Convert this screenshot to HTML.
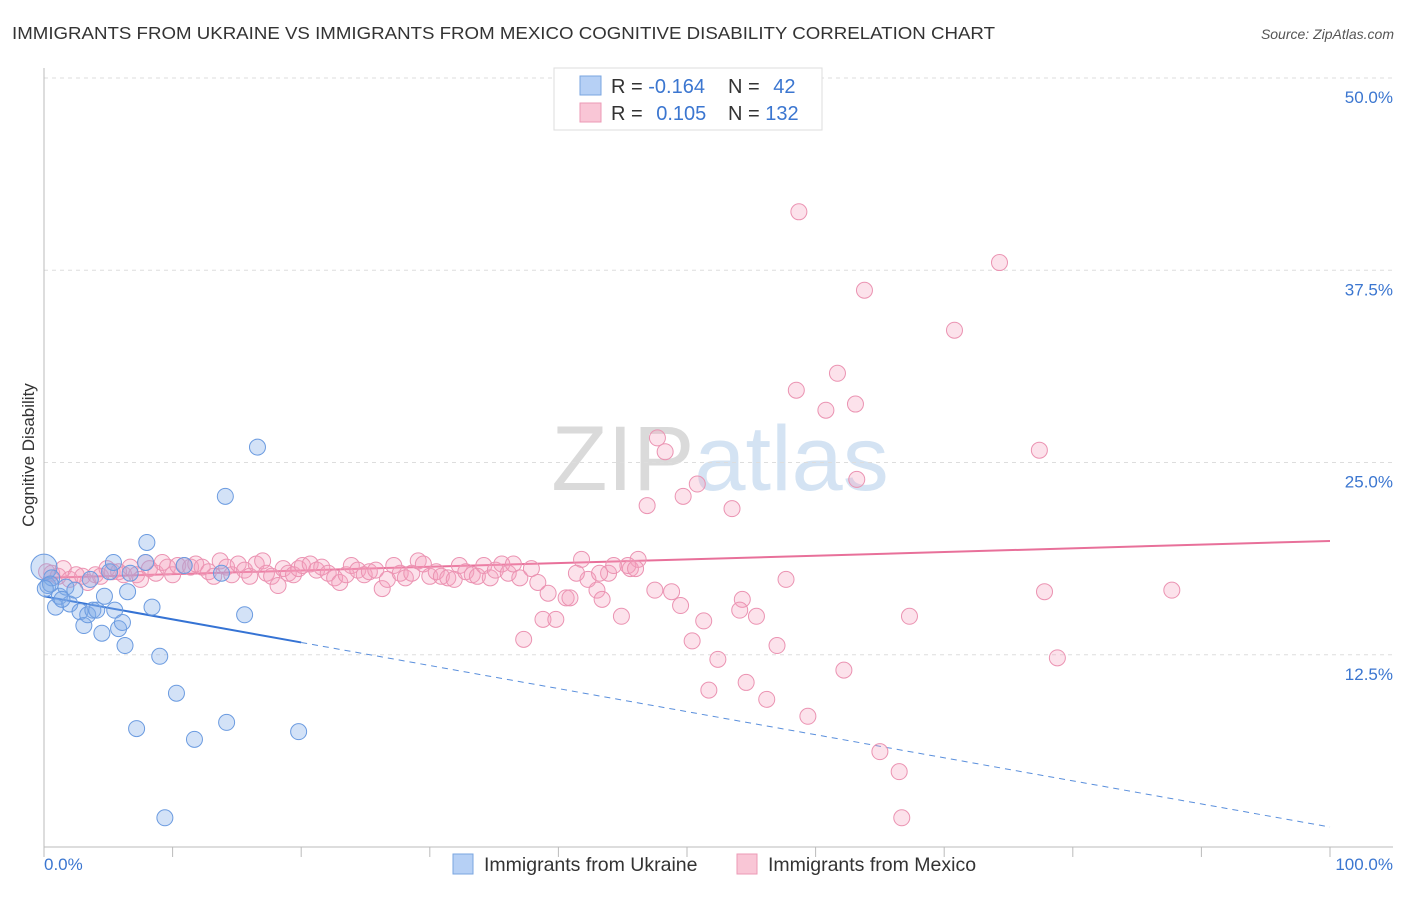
<!DOCTYPE html>
<html><head><meta charset="utf-8"><style>
body{margin:0;background:#fff;font-family:"Liberation Sans",sans-serif;}
svg text{font-family:"Liberation Sans",sans-serif;}
</style></head><body>
<svg id="chart" width="1406" height="892">
<text x="12" y="39" font-size="17.5" fill="#333" textLength="983" lengthAdjust="spacingAndGlyphs">IMMIGRANTS FROM UKRAINE VS IMMIGRANTS FROM MEXICO COGNITIVE DISABILITY CORRELATION CHART</text>
<text x="1394" y="39" font-size="14" font-style="italic" fill="#555" text-anchor="end">Source: ZipAtlas.com</text>
<text x="720" y="490" font-size="92" fill="#ddd" text-anchor="middle" font-family="Liberation Serif"><tspan fill="#dadada">ZIP</tspan><tspan fill="#d4e3f3" font-family="Liberation Sans">atlas</tspan></text>
<g id="grid"></g><g id="axes"></g><g id="trend"></g><g id="points"></g>
<text transform="translate(34,455) rotate(-90)" font-size="17" fill="#333" text-anchor="middle">Cognitive Disability</text>
<text x="44" y="870" font-size="17" fill="#3b76d0">0.0%</text>
<text x="1393" y="870" font-size="17" fill="#3b76d0" text-anchor="end">100.0%</text>
<g>
<rect x="554" y="68" width="268" height="62" fill="#fff" stroke="#ddd"/>
<rect x="580" y="76" width="21" height="19" fill="#b6d0f5" stroke="#7aa6e0"/>
<rect x="580" y="103" width="21" height="19" fill="#f9c6d6" stroke="#ec9ab6"/>
<text x="611" y="93" font-size="20" fill="#333">R = <tspan fill="#3b76d0">-0.164</tspan></text>
<text x="728" y="93" font-size="20" fill="#333">N = <tspan fill="#3b76d0" dx="8">42</tspan></text>
<text x="611" y="120" font-size="20" fill="#333">R = <tspan fill="#3b76d0" dx="8">0.105</tspan></text>
<text x="728" y="120" font-size="20" fill="#333">N = <tspan fill="#3b76d0">132</tspan></text>
</g>
<g>
<rect x="453" y="854" width="20" height="20" fill="#b6d0f5" stroke="#7aa6e0"/>
<text x="484" y="871" font-size="19.5" fill="#333">Immigrants from Ukraine</text>
<rect x="737" y="854" width="20" height="20" fill="#f9c6d6" stroke="#ec9ab6"/>
<text x="768" y="871" font-size="19.5" fill="#333">Immigrants from Mexico</text>
</g>
</svg>
<script>
const yTicks=[12.5,25,37.5,50];
const yTickLabels=["12.5%","25.0%","37.5%","50.0%"];
const xTicks=[0,10,20,30,40,50,60,70,80,90,100];
const ukraineX=[0,0.3,0.6,0.9,1.2,1.7,2.0,2.4,2.8,3.1,3.4,3.8,4.1,4.5,4.7,5.1,5.4,5.5,5.8,6.1,6.3,6.5,6.7,7.9,8.0,8.4,9.0,9.4,10.3,10.9,11.7,13.8,14.1,14.2,15.6,16.6,19.8,7.2,3.6,1.4,0.5,0.1];
const ukraineY=[18.2,17.0,17.5,15.6,16.3,16.9,15.8,16.7,15.3,14.4,15.1,15.4,15.4,13.9,16.3,17.9,18.5,15.4,14.2,14.6,13.1,16.6,17.8,18.5,19.8,15.6,12.4,1.9,10.0,18.3,7.0,17.8,22.8,8.1,15.1,26.0,7.5,7.7,17.4,16.1,17.1,16.8];
const mexicoX=[58.7,74.3,63.8,70.8,58.5,61.7,60.8,63.1,47.7,48.3,77.4,63.2,50.8,49.7,46.9,53.5,87.7,77.8,57.7,47.5,48.8,49.5,51.3,54.3,54.1,55.4,57.0,67.3,50.4,52.4,78.8,62.2,51.7,54.6,56.2,59.4,65.0,66.5,66.7,37.3,38.8,39.8,40.6,40.9,43.0,43.4,44.9,43.9,45.6,46.2,41.8,39.2,42.3,
0.2,0.6,1.1,1.5,2.0,2.5,3.0,3.4,4.0,4.4,4.9,5.3,5.8,6.2,6.7,7.2,7.5,7.9,8.2,8.7,9.2,9.6,10.0,10.4,10.9,11.4,11.8,12.3,12.8,13.2,13.7,14.2,14.6,15.1,15.6,16.0,16.5,17.0,17.3,17.7,18.2,18.6,19.0,19.4,19.8,20.1,20.7,21.2,21.6,22.1,22.6,23.0,23.5,23.9,24.4,24.9,25.3,25.8,26.3,26.7,27.2,27.7,28.1,28.6,29.1,29.5,30.0,30.5,30.9,31.4,31.9,32.3,32.8,33.3,33.7,34.2,34.7,35.1,35.6,36.1,36.5,37.0,37.9,38.4,41.4,43.2,44.3,45.4,46.0];
const mexicoY=[41.3,38.0,36.2,33.6,29.7,30.8,28.4,28.8,26.6,25.7,25.8,23.9,23.6,22.8,22.2,22.0,16.7,16.6,17.4,16.7,16.6,15.7,14.7,16.1,15.4,15.0,13.1,15.0,13.4,12.2,12.3,11.5,10.2,10.7,9.6,8.5,6.2,4.9,1.9,13.5,14.8,14.8,16.2,16.2,16.7,16.1,15.0,17.8,18.1,18.7,18.7,16.5,17.4,
17.9,17.8,17.6,18.1,17.4,17.7,17.6,17.2,17.7,17.6,18.1,17.9,17.9,17.7,18.2,17.7,17.4,18.5,18.1,17.8,18.5,18.2,17.7,18.3,18.3,18.2,18.4,18.2,17.9,17.6,18.6,18.2,17.7,18.4,18.0,17.6,18.4,18.6,17.8,17.6,17.0,18.1,17.8,17.7,18.1,18.3,18.4,18.0,18.2,17.8,17.5,17.2,17.7,18.3,18.0,17.7,17.9,18.0,16.8,17.4,18.3,17.8,17.5,17.8,18.6,18.4,17.6,17.9,17.6,17.5,17.4,18.3,17.9,17.7,17.6,18.3,17.5,18.0,18.4,17.8,18.4,17.5,18.1,17.2,17.8,17.8,18.3,18.3,18.1];
const ukraineTrend=[16.3,-0.15];
const mexicoTrend=[17.5,0.024];
const NS='http://www.w3.org/2000/svg';
const X0=44,X1=1330,Y0=847,YTOP=78;
function sx(v){return X0+(X1-X0)*v/100;}
function sy(v){return Y0-(Y0-YTOP)*v/50;}
function mk(tag,attrs,parent){const e=document.createElementNS(NS,tag);for(const k in attrs)e.setAttribute(k,attrs[k]);document.getElementById(parent).appendChild(e);return e;}
yTicks.forEach((t,i)=>{
 const g=mk('line',{x1:X0,x2:1393,y1:sy(t),y2:sy(t),stroke:'#ddd','stroke-dasharray':'4,4'},'grid');
 
 
 const l=mk('text',{x:1393,y:sy(t)+25,'font-size':17,fill:'#3b76d0','text-anchor':'end'},'grid');
 l.textContent=yTickLabels[i];
 
 
});
const ya=mk('line',{x1:X0,x2:X0,y1:68,y2:Y0,stroke:'#bbb'},'axes');


const xa=mk('line',{x1:X0,x2:1393,y1:Y0,y2:Y0,stroke:'#bbb'},'axes');


xTicks.forEach(t=>{
 const k=mk('line',{x1:sx(t),x2:sx(t),y1:Y0,y2:Y0+10,stroke:'#bbb'},'axes');
 
 
});
function dot(x,y,cls,r){
 const c=mk('circle',{cx:sx(x),cy:sy(y),r:r,fill:cls==='u'?'rgba(130,172,232,0.35)':'rgba(244,160,190,0.3)',stroke:cls==='u'?'#6b9be0':'#eb93b2','stroke-width':1},'points');
 
 
}
mexicoX.forEach((x,i)=>dot(x,mexicoY[i],'m',8));
ukraineX.forEach((x,i)=>dot(x,ukraineY[i],'u',i===0?13:8));
const mt=mk('line',{x1:sx(0),y1:sy(mexicoTrend[0]),x2:sx(100),y2:sy(mexicoTrend[0]+100*mexicoTrend[1]),stroke:'#e8709a','stroke-width':2},'trend');


const ut=mk('line',{x1:sx(0),y1:sy(ukraineTrend[0]),x2:sx(20),y2:sy(ukraineTrend[0]+20*ukraineTrend[1]),stroke:'#3573d4','stroke-width':2},'trend');


const ud=mk('line',{x1:sx(20),y1:sy(ukraineTrend[0]+20*ukraineTrend[1]),x2:sx(100),y2:sy(ukraineTrend[0]+100*ukraineTrend[1]),stroke:'#5a8fdc','stroke-width':1,'stroke-dasharray':'6,5'},'trend');


</script>
</body></html>
